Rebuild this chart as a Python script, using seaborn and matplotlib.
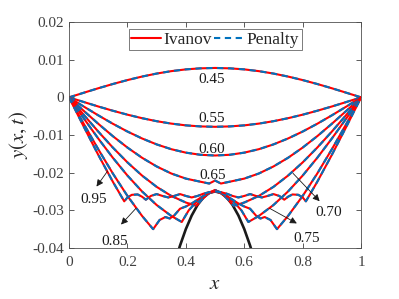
import matplotlib
matplotlib.use('Agg')
import matplotlib.pyplot as plt
import seaborn as sns
import numpy as np

# left half of each profile (x from 0 to 0.5); the chart is symmetric about x = 0.5
x_smooth = [0, .05, .1, .15, .2, .25, .3, .35, .4, .45, .5]
y_045 = [0, .00122, .00242, .00355, .00460, .00553, .00633, .00697, .00744, .00772, .00782]
y_055 = [0, -.00122, -.00242, -.00355, -.00460, -.00553, -.00633, -.00697, -.00744, -.00772, -.00782]
y_060 = [0, -.00242, -.00477, -.00701, -.00908, -.01092, -.01250, -.01377, -.01469, -.01526, -.01545]

x_065 = [0, .05, .1, .15, .2, .25, .3, .35, .4, .45, .48, .5]
y_065 = [0, -.00355, -.00701, -.01031, -.01334, -.01605, -.01836, -.02023, -.02159, -.02242, -.02290, -.02210]

x_070 = [0, .05, .1, .15, .2, .25, .3, .35, .4, .436, .455, .475, .5]
y_070 = [0, -.00460, -.00908, -.01334, -.01728, -.02078, -.02378, -.02619, -.02795, -.02880, -.02720, -.02570, -.02460]

x_075 = [0, .05, .1, .15, .2, .25, .3, .35, .386, .41, .43, .455, .475, .5]
y_075 = [0, -.00553, -.01093, -.01605, -.02078, -.02500, -.02861, -.03151, -.03312, -.03000, -.02830, -.02660, -.02540, -.02470]

x_085 = [0, .05, .1, .15, .2, .25, .288, .31, .33, .345, .36, .38, .40, .42, .44, .46, .48, .5]
y_085 = [0, -.00697, -.01377, -.02023, -.02619, -.03150, -.03503, -.03260, -.03180, -.03220, -.03140,
         -.02960, -.02900, -.02820, -.02720, -.02620, -.02540, -.02500]

x_095 = [0, .05, .1, .15, .189, .20, .215, .235, .25, .263, .28, .30, .32, .34, .36, .38, .40, .42, .44,
         .46, .48, .5]
y_095 = [0, -.00772, -.01526, -.02242, -.02763, -.02660, -.02590, -.02580, -.02640, -.02720, -.02620,
         -.02570, -.02620, -.02660, -.02620, -.02570, -.02620, -.02660, -.02620, -.02560, -.02520, -.02500]

# obstacle
x_obs = [0.37, 0.38, 0.40, 0.42, 0.44, 0.46, 0.48, 0.50, 0.52, 0.54, 0.56, 0.58, 0.60, 0.62, 0.63]
y_obs = [-0.0419, -0.0394, -0.0350, -0.0314, -0.0286, -0.0266, -0.0254, -0.0250, -0.0254, -0.0266,
         -0.0286, -0.0314, -0.0350, -0.0394, -0.0419]

curves = [
    (x_smooth, y_045), (x_smooth, y_055), (x_smooth, y_060), (x_065, y_065),
    (x_070, y_070), (x_075, y_075), (x_085, y_085), (x_095, y_095),
]

# time labels: text position, arrow tail (on curve), arrow head (near text)
label_text = ['0.45', '0.55', '0.60', '0.65', '0.95', '0.85', '0.70', '0.75']
label_pos = [(0.49, 0.0047), (0.49, -0.0055), (0.49, -0.0138), (0.493, -0.0208),
             (0.083, -0.0272), (0.157, -0.0382), (0.89, -0.0305), (0.815, -0.0375)]
arrow_tail = [None, None, None, None, (0.132, -0.0196), (0.229, -0.0295), (0.767, -0.0202), (0.687, -0.0295)]
arrow_head = [None, None, None, None, (0.094, -0.0237), (0.178, -0.0338), (0.858, -0.0276), (0.78, -0.0335)]

red = '#FF0000'
blue = '#0072BD'


def mirror(xs, ys):
    xs = np.asarray(xs, float)
    ys = np.asarray(ys, float)
    return np.concatenate([xs, 1 - xs[::-1][1:]]), np.concatenate([ys, ys[::-1][1:]])


sns.set_theme(style="ticks")
plt.rcParams['font.family'] = ['Liberation Serif', 'DejaVu Serif']
plt.rcParams['mathtext.fontset'] = 'stix'
plt.rcParams['axes.unicode_minus'] = False

fig = plt.figure(figsize=(3.99, 2.99), dpi=100)
ax = fig.add_axes([0.173, 0.171, 0.732, 0.755])

sns.lineplot(x=x_obs, y=y_obs, color='k', lw=1.9, ax=ax, sort=False, estimator=None)

for i, (xs, ys) in enumerate(curves):
    xf, yf = mirror(xs, ys)
    sns.lineplot(x=xf, y=yf, color=red, lw=1.5, ax=ax, sort=False, estimator=None,
                 label='Ivanov' if i == 0 else None)
    sns.lineplot(x=xf, y=yf, color=blue, lw=1.5, ax=ax, sort=False, estimator=None,
                 label='Penalty' if i == 0 else None)
    ax.lines[-1].set_dashes([3.0, 2.2])

for txt, pos, tail, head in zip(label_text, label_pos, arrow_tail, arrow_head):
    ax.text(pos[0], pos[1], txt, ha='center', va='center', fontsize=11, color='k')
    if tail is not None:
        ax.annotate('', xy=head, xytext=tail,
                    arrowprops=dict(arrowstyle='-|>', color='k', lw=0.6, mutation_scale=10,
                                    shrinkA=0, shrinkB=0))

ax.set_xlim(0, 1)
ax.set_ylim(-0.04, 0.02)
ax.set_xticks([0, 0.2, 0.4, 0.6, 0.8, 1])
ax.set_xticklabels(['0', '0.2', '0.4', '0.6', '0.8', '1'])
ax.set_yticks([-0.04, -0.03, -0.02, -0.01, 0, 0.01, 0.02])
ax.set_yticklabels(['-0.04', '-0.03', '-0.02', '-0.01', '0', '0.01', '0.02'])
ax.tick_params(axis='x', pad=6)
ax.tick_params(direction='in', length=3.5, width=0.6, top=True, right=True, labelsize=11,
               colors='#404040')
for s in ax.spines.values():
    s.set_visible(True)
    s.set_linewidth(0.6)
    s.set_color('#505050')

ax.set_xlabel('$x$', fontsize=15, labelpad=4)
ax.set_ylabel('$y(x,t)$', fontsize=15, labelpad=2)

leg = ax.legend(loc='upper center', bbox_to_anchor=(0.5, 0.985), ncol=2, fontsize=12.5,
                frameon=True, fancybox=False, handlelength=1.7, handletextpad=0.15,
                columnspacing=0.15, borderpad=0.15, borderaxespad=0.2)
leg.get_frame().set_edgecolor('#404040')
leg.get_frame().set_linewidth(0.6)
leg.get_lines()[1].set_dashes([3.0, 2.2])

fig.savefig('out.png', dpi=100)
